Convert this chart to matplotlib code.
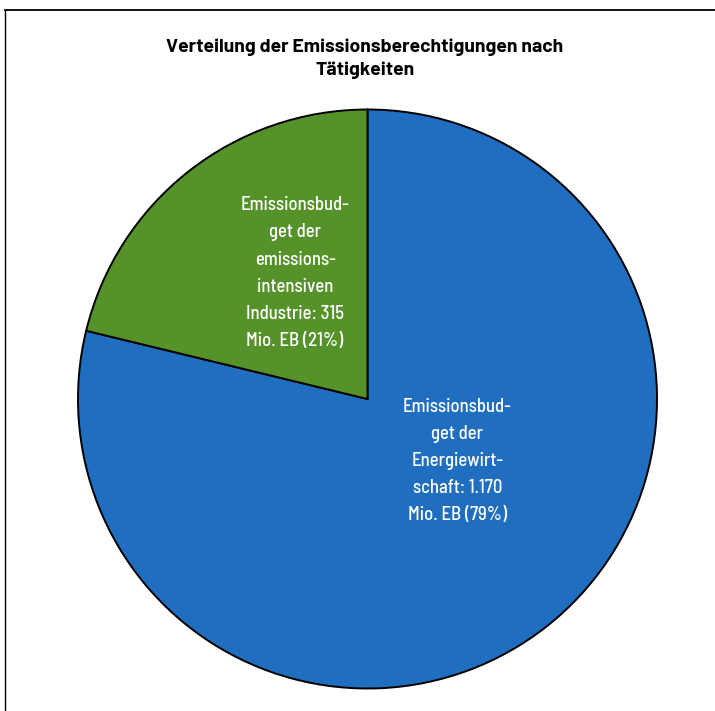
import matplotlib
matplotlib.use("Agg")
import matplotlib.pyplot as plt
from matplotlib.lines import Line2D

plt.rcParams['font.family'] = ['Barlow Semi Condensed', 'DejaVu Sans']

# data
categories = ["Energiewirtschaft", "emissionsintensive Industrie"]
values = [1170, 315]
shares = [79, 21]
labels = [
    "Emissionsbud-\nget der\nEnergiewirt-\nschaft: 1.170\nMio. EB (79%)",
    "Emissionsbud-\nget der\nemissions-\nintensiven\nIndustrie: 315\nMio. EB (21%)",
]
colors = ["#1f6ebf", "#55922a"]
title = "Verteilung der Emissionsberechtigungen nach\nTätigkeiten"

fig = plt.figure(figsize=(7.15, 7.11), dpi=100)
ax = fig.add_axes([78 / 715, 22.5 / 711, 579 / 715, 579 / 711])

wedges, texts = ax.pie(values, colors=colors, startangle=90, counterclock=False,
                       labels=labels, labeldistance=0.45,
                       wedgeprops=dict(edgecolor="black", linewidth=1.4),
                       textprops=dict(color="white", fontsize=13.5, fontweight=500,
                                      ha="center", va="center", linespacing=1.65))
for w in wedges:
    w.set_clip_on(False)
ax.set_xlim(-1, 1)
ax.set_ylim(-1, 1)
ax.set_aspect("auto")
ax.axis("off")

# nudge labels to where the reference has them
texts[0].set_position((0.31, -0.215))
texts[1].set_position((-0.25, 0.435))

fig.text(0.5105, 0.918, title, ha="center", va="center", fontsize=14,
         fontweight="bold", linespacing=1.4, family=["Barlow", "DejaVu Sans"])

# frame lines (top and left)
fig.add_artist(Line2D([4.5 / 715, 1], [1 - 10 / 711, 1 - 10 / 711], color="black", linewidth=1.3))
fig.add_artist(Line2D([4.5 / 715, 4.5 / 715], [0, 1 - 10 / 711], color="black", linewidth=1.0))

fig.savefig("out.png", dpi=100)
